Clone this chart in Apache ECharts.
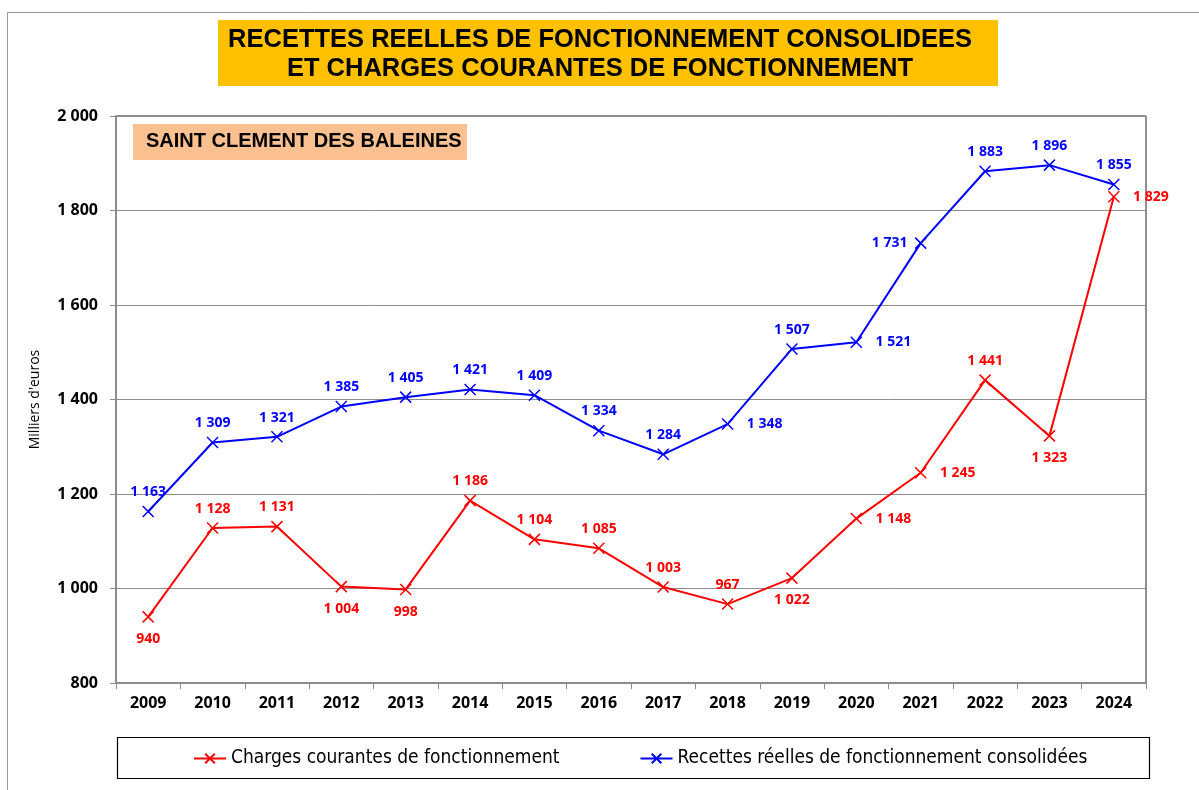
<!DOCTYPE html>
<html>
<head>
<meta charset="utf-8">
<script src="https://cdn.jsdelivr.net/npm/echarts@6/dist/echarts.min.js"></script>
<style>
html, body {margin: 0; padding: 0; background: #fff;}
#chart {width: 1199px; height: 790px;}
</style>
</head>
<body>
<div id="chart"></div>
<script>
    var years = ['2009', '2010', '2011', '2012', '2013', '2014', '2015', '2016',
                 '2017', '2018', '2019', '2020', '2021', '2022', '2023', '2024'];
    var charges = [940, 1128, 1131, 1004, 998, 1186, 1104, 1085, 1003, 967, 1022, 1148, 1245, 1441, 1323, 1829];
    var recettes = [1163, 1309, 1321, 1385, 1405, 1421, 1409, 1334, 1284, 1348, 1507, 1521, 1731, 1883, 1896, 1855];
    var yTicks = [800, 1000, 1200, 1400, 1600, 1800, 2000];

    var titleLines = 'RECETTES REELLES DE FONCTIONNEMENT CONSOLIDEES\nET CHARGES COURANTES DE FONCTIONNEMENT';
    var communeName = 'SAINT CLEMENT DES BALEINES';
    var nameCharges = 'Charges courantes de fonctionnement';
    var nameRecettes = 'Recettes réelles de fonctionnement consolidées';

    // position des étiquettes (comme dans le classeur)
    var posCharges = {0: 'bottom', 3: 'bottom', 4: 'bottom', 10: 'bottom', 11: 'right', 12: 'right', 14: 'bottom', 15: 'right'};
    var posRecettes = {9: 'right', 11: 'right', 12: 'left'};

    var cross = 'path://M0,0L10,10M10,0L0,10';

    function fmt(v) {
        return String(v).replace(/\B(?=(\d{3})+(?!\d))/g, ' ');
    }

    function withLabels(values, positions) {
        return values.map(function (v, i) {
            var p = positions[i] || 'top';
            var dist = {top: 6, bottom: 9, right: 13, left: 7}[p];
            return {value: v, label: {position: p, distance: dist}};
        });
    }

    function series(name, color, values, positions) {
        return {
            name: name,
            type: 'line',
            data: withLabels(values, positions),
            symbol: cross,
            symbolSize: 11,
            showAllSymbol: true,
            lineStyle: {color: color, width: 2},
            itemStyle: {color: color, borderColor: color, borderWidth: 1.5},
            label: {
                show: true,
                color: color,
                fontFamily: 'Open Sans',
                fontWeight: 'bold',
                fontSize: 14,
                formatter: function (p) { return fmt(p.value); }
            },
            emphasis: {disabled: true},
            animation: false
        };
    }

    var chart = echarts.init(document.getElementById('chart'));

    var option = {
        backgroundColor: '#fff',
        animation: false,
        grid: {left: 116, right: 53, top: 116, bottom: 107, show: true, borderColor: '#222', borderWidth: 1},
        legend: {
            top: 744,
            left: 188,
            itemWidth: 32,
            itemHeight: 12,
            itemGap: 80,
            data: [nameCharges, nameRecettes],
            textStyle: {fontFamily: 'DejaVu Sans Condensed', fontSize: 19, color: '#000'}
        },
        xAxis: {
            type: 'category',
            data: years,
            boundaryGap: true,
            axisLine: {lineStyle: {color: '#8c8c8c', width: 2}},
            axisTick: {show: true, length: 6, lineStyle: {color: '#8c8c8c'}},
            axisLabel: {color: '#000', fontFamily: 'Open Sans', fontWeight: 'bold', fontSize: 16, margin: 12}
        },
        yAxis: {
            type: 'value',
            min: yTicks[0],
            max: yTicks[yTicks.length - 1],
            interval: 200,
            name: "Milliers d'euros",
            nameLocation: 'middle',
            nameGap: 74,
            nameRotate: 90,
            nameTextStyle: {fontFamily: 'Open Sans', fontSize: 14, color: '#000'},
            axisLine: {show: true, lineStyle: {color: '#8c8c8c', width: 2}},
            axisTick: {show: true, inside: false, length: 6, lineStyle: {color: '#8c8c8c'}},
            axisLabel: {
                color: '#000', fontFamily: 'Open Sans', fontWeight: 'bold', fontSize: 16, margin: 18,
                formatter: function (v) { return fmt(v); }
            },
            splitLine: {lineStyle: {color: '#8c8c8c', width: 1}}
        },
        graphic: [
            // cadre de la page
            {type: 'rect', left: 5, top: 10, z: -10, silent: true,
             shape: {width: 1300, height: 900}, style: {fill: 'none', stroke: '#999', lineWidth: 1}},
            // titre
            {type: 'rect', left: 218, top: 20, silent: true,
             shape: {width: 780, height: 66}, style: {fill: '#FFC000'}},
            {type: 'text', x: 600, y: 25, silent: true,
             style: {text: titleLines, fill: '#000', font: 'bold 25.5px "Liberation Sans"', align: 'center', lineHeight: 29}},
            // nom de la commune
            {type: 'rect', left: 133, top: 124, z: 10, silent: true,
             shape: {width: 334, height: 36}, style: {fill: '#FAC090'}},
            {type: 'text', left: 146, top: 131, z: 11, silent: true,
             style: {text: communeName, fill: '#000', font: 'bold 20px "Liberation Sans"'}},
            // cadre de la légende
            {type: 'rect', left: 115, top: 735, silent: true,
             shape: {width: 1032, height: 41}, style: {fill: 'none', stroke: '#000', lineWidth: 1.2}}
        ],
        series: [
            series(nameCharges, '#ff0000', charges, posCharges),
            series(nameRecettes, '#0000ff', recettes, posRecettes)
        ]
    };

    chart.setOption(option);
</script>
</body>
</html>
